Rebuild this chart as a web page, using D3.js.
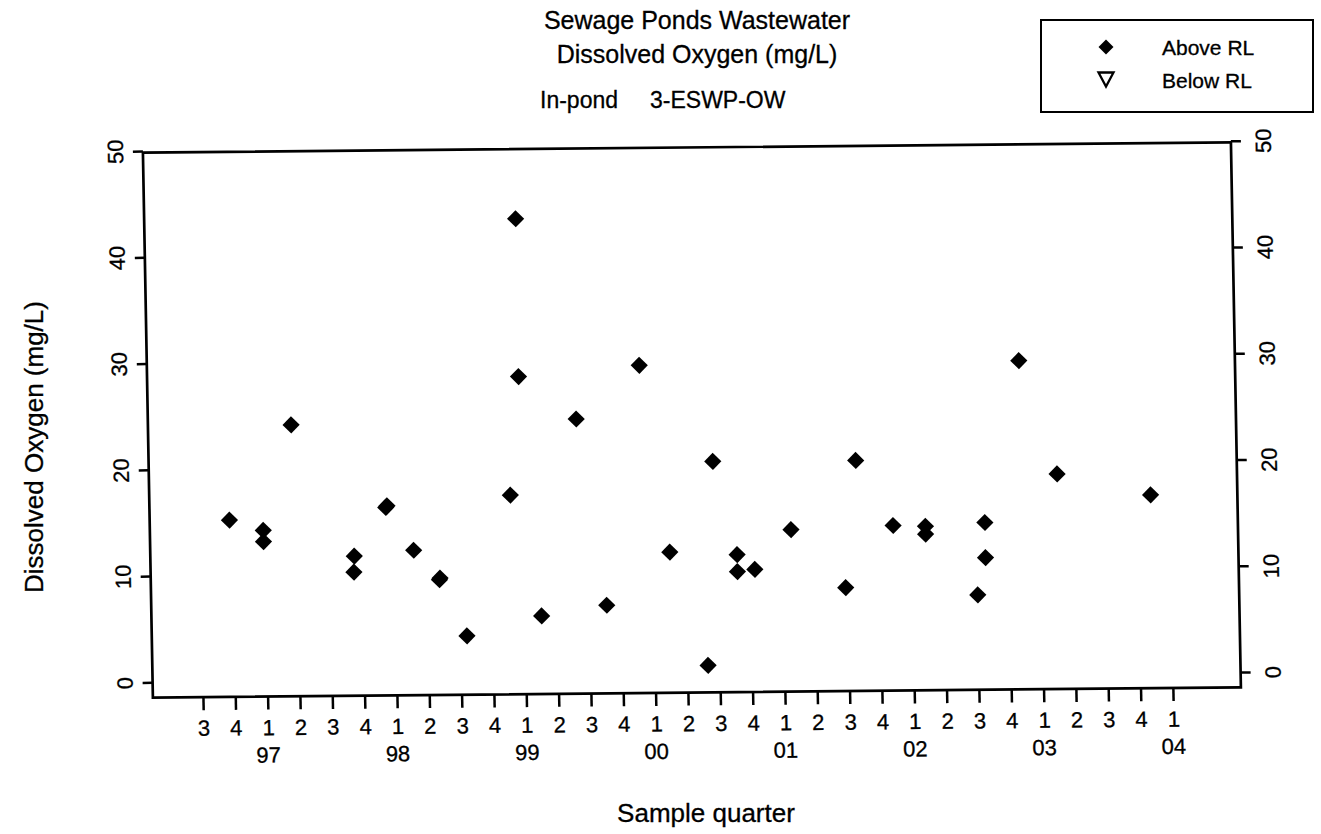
<!DOCTYPE html>
<html><head><meta charset="utf-8">
<script src="https://cdn.jsdelivr.net/npm/d3@7"></script>
<style>
body{margin:0;background:#fff}
text{font-family:"Liberation Sans",Arial,Helvetica,sans-serif;fill:#000;stroke:#000;stroke-width:0.3px}
</style>
</head><body>
<svg id="chart" width="1321" height="834"></svg>
<script>
// ---- data (sample date as decimal year, dissolved oxygen mg/L) ----
const sampleDates = [1996.73, 1996.99, 1996.99, 1997.22, 1997.69, 1997.685, 1997.94, 1997.95,
  1998.15, 1998.345, 1998.35, 1998.55, 1998.905, 1998.985, 1998.985, 1999.13, 1999.425,
  1999.635, 1999.92, 2000.13, 2000.41, 2000.475, 2000.65, 2000.65, 2000.785, 2001.07,
  2001.485, 2001.58, 2001.86, 2002.11, 2002.11, 2002.505, 2002.57, 2002.57, 2002.855,
  2003.135, 2003.855];
const doValues = [15.2, 14.2, 13.15, 24.1, 11.7, 10.2, 16.25, 16.4,
  12.2, 9.4, 9.55, 4.1, 17.3, 43.3, 28.45, 5.9, 24.4,
  6.85, 29.4, 11.8, 1.1, 20.3, 11.5, 9.9, 10.1, 13.8,
  8.3, 20.25, 14.1, 14.0, 13.25, 7.5, 14.3, 11.0, 29.5,
  18.8, 16.75];

const quarterTickValues = [1996.5, 1996.75, 1997, 1997.25, 1997.5, 1997.75, 1998, 1998.25,
  1998.5, 1998.75, 1999, 1999.25, 1999.5, 1999.75, 2000, 2000.25, 2000.5, 2000.75, 2001,
  2001.25, 2001.5, 2001.75, 2002, 2002.25, 2002.5, 2002.75, 2003, 2003.25, 2003.5, 2003.75, 2004];
const quarterTickLabels = ["3","4","1","2","3","4","1","2","3","4","1","2","3","4","1","2",
  "3","4","1","2","3","4","1","2","3","4","1","2","3","4","1"];
const yearTickValues = [1997, 1998, 1999, 2000, 2001, 2002, 2003, 2004];
const yearTickLabels = ["97","98","99","00","01","02","03","04"];
const yTickValues = [0, 10, 20, 30, 40, 50];
const titleLines = ["Sewage Ponds Wastewater", "Dissolved Oxygen (mg/L)"];
const subtitleParts = ["In-pond", "3-ESWP-OW"];
const legendLabels = ["Above RL", "Below RL"];
const xTitle = "Sample quarter";
const yTitle = "Dissolved Oxygen (mg/L)";

// ---- layout ----
const svg = d3.select("#chart");
const plotLeft = 148, plotRight = 1236, plotTop = 147.5, plotBottom = 692.5;
const xScale = d3.scaleLinear().domain([1996.113, 2004.526]).range([plotLeft, plotRight]);
const yScale = d3.scaleLinear().domain([0, 50]).range([677.2, 145.9]);

// slight skew of the scanned original
const skewA = 0.0183, skewB = -0.0095, cx = 692, cy = 425;
const g = svg.append("g")
  .attr("transform", `matrix(1,${skewB},${skewA},1,${-skewA * cy},${-skewB * cx})`);

// frame
g.append("rect")
  .attr("x", plotLeft).attr("y", plotTop)
  .attr("width", plotRight - plotLeft).attr("height", plotBottom - plotTop)
  .attr("fill", "none").attr("stroke", "#000").attr("stroke-width", 2.7);

// left axis
const yLeft = g.append("g").attr("transform", `translate(${plotLeft},0)`)
  .call(d3.axisLeft(yScale).tickValues(yTickValues).tickSize(10).tickFormat(d3.format("d")));
yLeft.select(".domain").remove();
yLeft.selectAll("line").attr("stroke-width", 2.5);
yLeft.selectAll("text")
  .attr("transform", "rotate(-90)").attr("x", 0).attr("y", -20).attr("dy", 0)
  .attr("text-anchor", "middle").style("font-size", "22px");

// right axis
const yRight = g.append("g").attr("transform", `translate(${plotRight},0)`)
  .call(d3.axisRight(yScale).tickValues(yTickValues).tickSize(10).tickFormat(d3.format("d")));
yRight.select(".domain").remove();
yRight.selectAll("line").attr("stroke-width", 2.5);
yRight.selectAll("text")
  .attr("transform", "rotate(-90)").attr("x", 0).attr("y", 40).attr("dy", 0)
  .attr("text-anchor", "middle").style("font-size", "22px");

// bottom axis: quarters
const xAxis = g.append("g").attr("transform", `translate(0,${plotBottom})`)
  .call(d3.axisBottom(xScale).tickValues(quarterTickValues).tickSize(13).tickPadding(10)
    .tickFormat((d, i) => quarterTickLabels[i]));
xAxis.select(".domain").remove();
xAxis.selectAll("line").attr("stroke-width", 2.5);
xAxis.selectAll("text").style("font-size", "22px");

// year labels
g.append("g").selectAll("text").data(yearTickValues).join("text")
  .attr("x", d => xScale(d)).attr("y", plotBottom + 66)
  .attr("text-anchor", "middle").style("font-size", "22px")
  .text((d, i) => yearTickLabels[i]);

// points
const diamond = r => `M0,${-r}L${r},0L0,${r}L${-r},0Z`;
g.append("g").selectAll("path").data(sampleDates).join("path")
  .attr("d", diamond(8.6))
  .attr("transform", (d, i) => `translate(${xScale(d)},${yScale(doValues[i])})`)
  .attr("fill", "#000");

// titles
svg.append("g").selectAll("text").data(titleLines).join("text")
  .attr("x", 697).attr("y", (d, i) => 29 + i * 34)
  .attr("text-anchor", "middle").style("font-size", "25px").text(d => d);
svg.append("text").attr("x", 540).attr("y", 108).style("font-size", "23px").text(subtitleParts[0]);
svg.append("text").attr("x", 650).attr("y", 108).style("font-size", "23px").text(subtitleParts[1]);

// axis titles
svg.append("text").attr("x", 706).attr("y", 822).attr("text-anchor", "middle")
  .style("font-size", "26px").text(xTitle);
svg.append("text").attr("transform", "translate(43,447) rotate(-90)")
  .attr("text-anchor", "middle").style("font-size", "26px").text(yTitle);

// legend
const lg = svg.append("g");
lg.append("rect").attr("x", 1041).attr("y", 20).attr("width", 272).attr("height", 92)
  .attr("fill", "none").attr("stroke", "#000").attr("stroke-width", 2);
lg.append("path").attr("d", diamond(7.5)).attr("transform", "translate(1106,47)").attr("fill", "#000");
lg.append("path").attr("d", "M-7.5,-6.5L7.5,-6.5L0,7.5Z").attr("transform", "translate(1106,79)")
  .attr("fill", "none").attr("stroke", "#000").attr("stroke-width", 2.3);
lg.selectAll("text.lab").data(legendLabels).join("text").attr("class", "lab")
  .attr("x", 1162).attr("y", (d, i) => 55 + i * 33).style("font-size", "21px").text(d => d);
</script>
</body></html>
